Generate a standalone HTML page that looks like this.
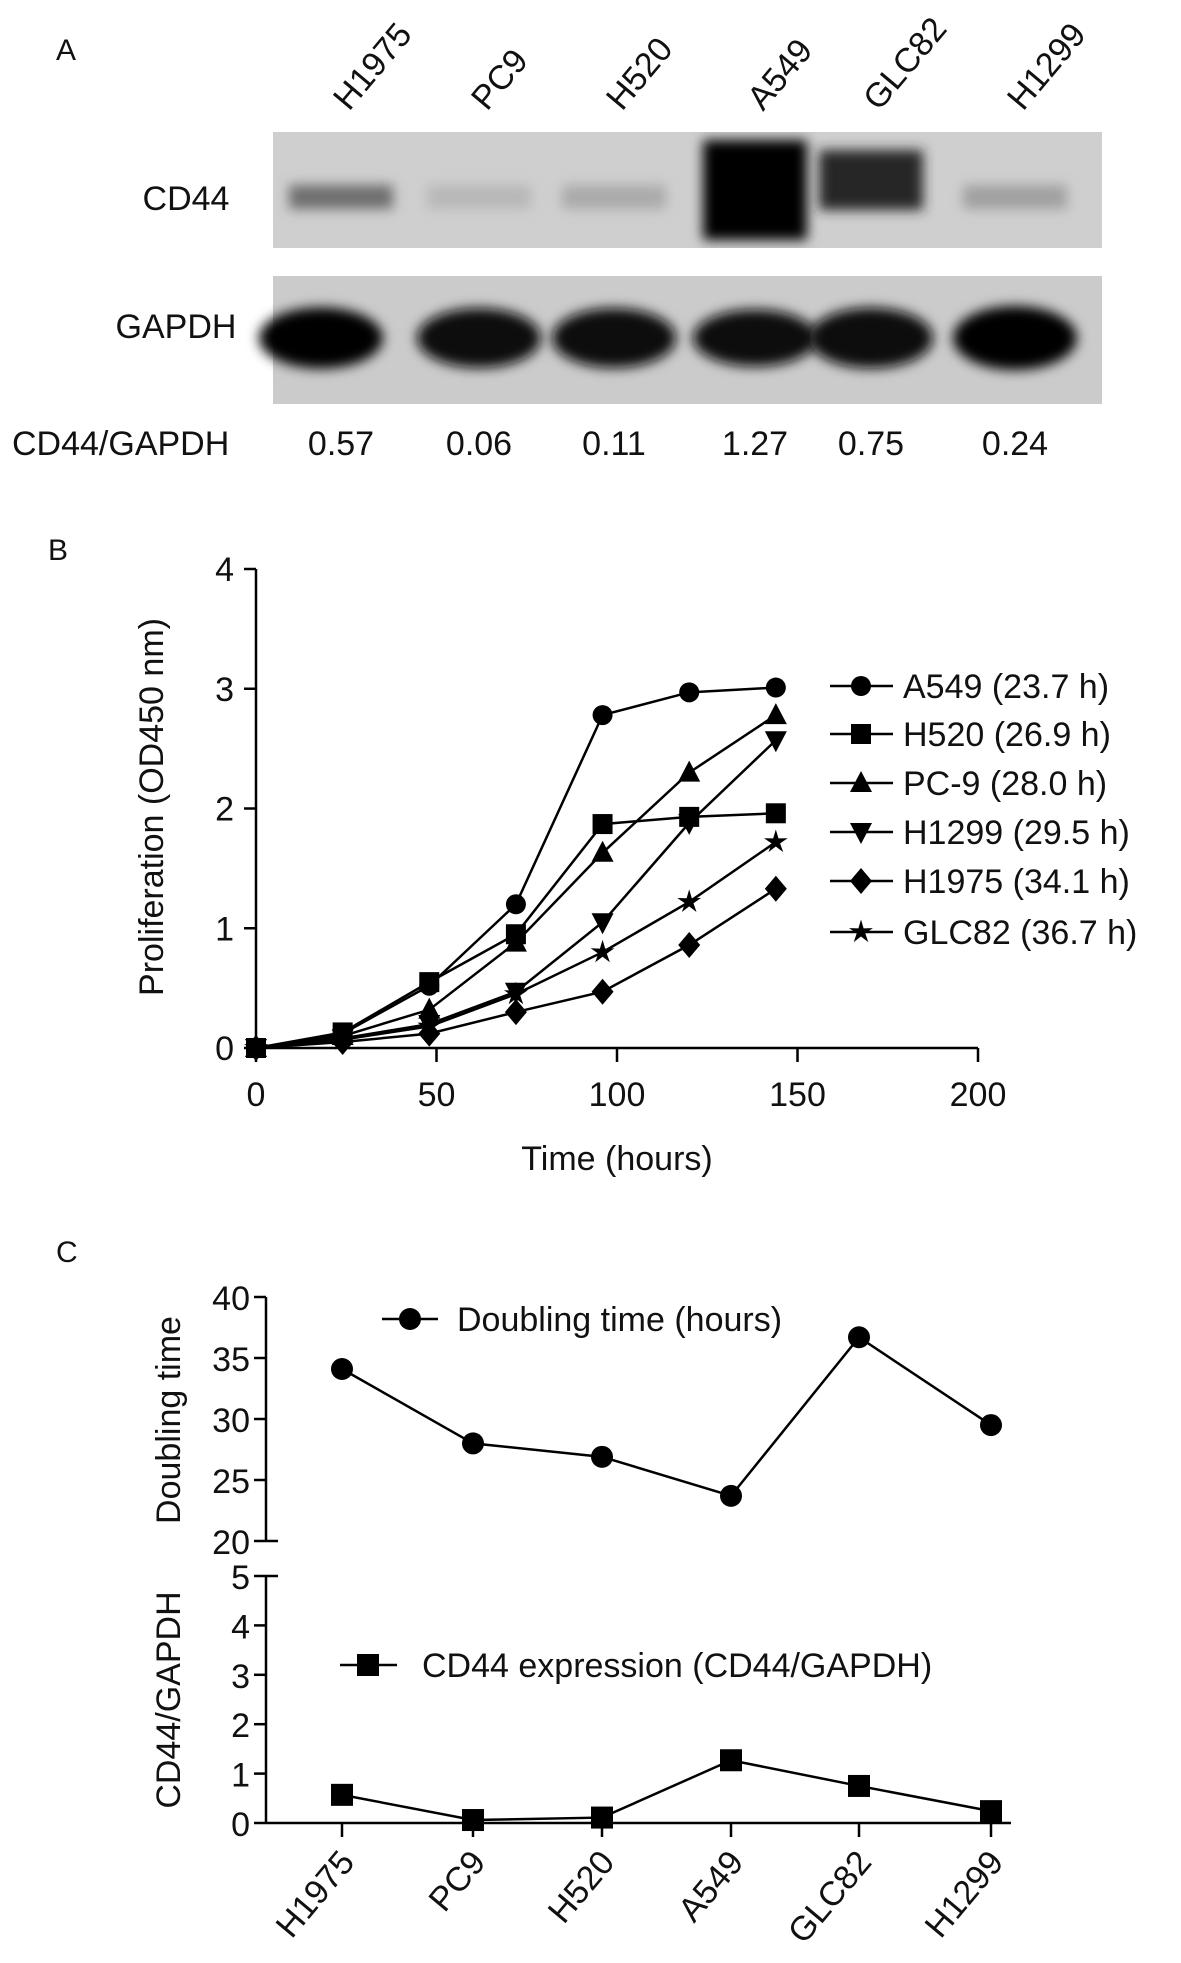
<!DOCTYPE html>
<html><head><meta charset="utf-8"><style>
html,body{margin:0;padding:0;background:#fff;}
svg{display:block;font-family:"Liberation Sans",sans-serif;}
</style></head><body>
<svg id="fig" width="1181" height="1963" viewBox="0 0 1181 1963">
<defs>
<filter id="blur" x="-30%" y="-60%" width="160%" height="220%"><feGaussianBlur stdDeviation="6"/></filter>
</defs>
<g id="panelA"></g>
<g id="panelB"></g>
<g id="panelC"></g>
</svg>
<script>
const NS='http://www.w3.org/2000/svg';
function mk(parent,tag,attrs,text){const e=document.createElementNS(NS,tag);for(const k in attrs)e.setAttribute(k,attrs[k]);if(text!==undefined)e.textContent=text;parent.appendChild(e);return e;}

// ---------- data ----------
const cellLines=['H1975','PC9','H520','A549','GLC82','H1299'];
const cd44Ratio=[0.57,0.06,0.11,1.27,0.75,0.24];
const cd44Intensity=[0.45,0.08,0.15,1.0,0.8,0.2];
const gapdhIntensity=[0.9,0.85,0.85,0.75,0.88,1.0];
const timeHours=[0,24,48,72,96,120,144];
const seriesNames=['A549 (23.7 h)','H520 (26.9 h)','PC-9 (28.0 h)','H1299 (29.5 h)','H1975 (34.1 h)','GLC82 (36.7 h)'];
const seriesMarkers=['circle','square','triangle','tridown','diamond','star'];
const a549Values=[0,0.12,0.52,1.2,2.78,2.97,3.01];
const h520Values=[0,0.13,0.55,0.95,1.87,1.93,1.96];
const pc9Values=[0,0.1,0.32,0.88,1.63,2.3,2.78];
const h1299Values=[0,0.08,0.2,0.47,1.05,1.88,2.57];
const h1975Values=[0,0.05,0.12,0.3,0.47,0.86,1.33];
const glc82Values=[0,0.07,0.18,0.45,0.8,1.22,1.72];
const xTicksB=[0,50,100,150,200];
const yTicksB=[0,1,2,3,4];
const doublingTime=[34.1,28.0,26.9,23.7,36.7,29.5];
const yTicksCUpper=[20,25,30,35,40];
const yTicksCLower=[0,1,2,3,4,5];

function marker(g,type,x,y,s){
  let el;
  if(type==='circle') el=mk(g,'circle',{cx:x,cy:y,r:s});
  else if(type==='square') el=mk(g,'rect',{x:x-s,y:y-s,width:2*s,height:2*s});
  else if(type==='triangle') el=mk(g,'polygon',{points:`${x},${y-s*1.2} ${x+s*1.1},${y+s*0.9} ${x-s*1.1},${y+s*0.9}`});
  else if(type==='tridown') el=mk(g,'polygon',{points:`${x},${y+s*1.2} ${x+s*1.1},${y-s*0.9} ${x-s*1.1},${y-s*0.9}`});
  else if(type==='diamond') el=mk(g,'polygon',{points:`${x},${y-s*1.3} ${x+s*1.1},${y} ${x},${y+s*1.3} ${x-s*1.1},${y}`});
  else { let p=[];for(let i=0;i<10;i++){const r=i%2?s*0.45:s*1.25;const a=-Math.PI/2+i*Math.PI/5;p.push((x+r*Math.cos(a)).toFixed(1)+','+(y+r*Math.sin(a)).toFixed(1));} el=mk(g,'polygon',{points:p.join(' ')}); }
  el.setAttribute('fill','#000');
  return el;
}

// ---------- Panel A ----------
const A=document.getElementById('panelA');
mk(A,'text',{x:56,y:60,'font-size':30,fill:'#111'},'A');
const laneX=[341,479,614,755,871,1015];
const b1=mk(A,'rect',{x:273,y:132,width:829,height:116,fill:'#cfcfcf'});

const b2=mk(A,'rect',{x:273,y:276,width:829,height:128,fill:'#cbcbcb'});

cellLines.forEach((n,i)=>{
  const v=cd44Intensity[i];
  const g=Math.round(200-200*v);
  const h=v>0.9?100:(v>0.6?60:24);
  const e=mk(A,'rect',{x:laneX[i]-52,y:v>0.9?140:(v>0.6?150:185),width:104,height:h,fill:`rgb(${g},${g},${g})`,filter:'url(#blur)'});
  
  const gv=gapdhIntensity[i];const gg=Math.round(60-60*gv);
  const e2=mk(A,'ellipse',{cx:laneX[i]+(i===0?-20:0),cy:338,rx:62,ry:18+14*gv,fill:`rgb(${gg},${gg},${gg})`,filter:'url(#blur)'});
  
  const t=mk(A,'text',{x:laneX[i],y:455,'font-size':34,'text-anchor':'middle',fill:'#111'},cd44Ratio[i].toFixed(2));
  
});
mk(A,'rect',{x:200,y:248,width:960,height:28,fill:'#fff'});
mk(A,'rect',{x:200,y:404,width:960,height:20,fill:'#fff'});
mk(A,'rect',{x:200,y:114,width:960,height:18,fill:'#fff'});
cellLines.forEach((n,i)=>{
  const t=mk(A,'text',{x:0,y:0,'font-size':34,fill:'#111',transform:`translate(${laneX[i]+8},${112}) rotate(-50)`},n);
  
  
});
mk(A,'text',{x:186,y:210,'font-size':34,'text-anchor':'middle',fill:'#111',},'CD44');
mk(A,'text',{x:176,y:338,'font-size':34,'text-anchor':'middle',fill:'#111',},'GAPDH');
mk(A,'text',{x:12,y:455,'font-size':34,fill:'#111',},'CD44/GAPDH');

// ---------- Panel B ----------
const B=document.getElementById('panelB');
const bx0=256,bx1=978,by0=1048,by1=569;
const xB=v=>bx0+(v-0)/(200-0)*(bx1-bx0);
const yB=v=>by0-(v-0)/(4-0)*(by0-by1);
mk(B,'text',{x:48,y:560,'font-size':30,fill:'#111'},'B');
mk(B,'line',{x1:bx0,y1:by1,x2:bx0,y2:by0,stroke:'#000','stroke-width':2.5,});
mk(B,'line',{x1:bx0,y1:by0,x2:bx1,y2:by0,stroke:'#000','stroke-width':2.5,});
xTicksB.forEach(v=>{
  mk(B,'line',{x1:xB(v),y1:by0,x2:xB(v),y2:by0+14,stroke:'#000','stroke-width':2.5});
  const t=mk(B,'text',{x:xB(v),y:by0+58,'font-size':34,'text-anchor':'middle',fill:'#111'},String(v));
  
});
yTicksB.forEach(v=>{
  mk(B,'line',{x1:bx0-12,y1:yB(v),x2:bx0,y2:yB(v),stroke:'#000','stroke-width':2.5});
  const t=mk(B,'text',{x:bx0-22,y:yB(v)+12,'font-size':34,'text-anchor':'end',fill:'#111'},String(v));
  
});
mk(B,'text',{x:0,y:0,'font-size':34,'text-anchor':'middle',fill:'#111',transform:`translate(163,807) rotate(-90)`,},'Proliferation  (OD450 nm)');
mk(B,'text',{x:617,y:1170,'font-size':34,'text-anchor':'middle',fill:'#111',},'Time (hours)');
const seriesB=[a549Values,h520Values,pc9Values,h1299Values,h1975Values,glc82Values];
seriesB.forEach((vals,si)=>{
  const g=mk(B,'g',{});
  
  
  mk(g,'polyline',{points:vals.map((v,i)=>xB(timeHours[i])+','+yB(v)).join(' '),fill:'none',stroke:'#000','stroke-width':2.5});
  vals.forEach((v,i)=>marker(g,seriesMarkers[si],xB(timeHours[i]),yB(v),10));
});
const legY=[686,734,783,832,881,932];
seriesNames.forEach((n,i)=>{
  const g=mk(B,'g',{});
  
  
  mk(g,'line',{x1:830,y1:legY[i],x2:893,y2:legY[i],stroke:'#000','stroke-width':2.5});
  marker(g,seriesMarkers[i],861,legY[i],10);
  mk(g,'text',{x:903,y:legY[i]+12,'font-size':34,fill:'#111'},n);
});

// ---------- Panel C ----------
const C=document.getElementById('panelC');
const cx0=266,cx1=1011;
const catX=[342,473,602,731,859,991];
const yU=v=>1541-(v-20)/(40-20)*(1541-1297);
const yL=v=>1823-(v-0)/(5-0)*(1823-1576);
mk(C,'text',{x:56,y:1262,'font-size':30,fill:'#111'},'C');
mk(C,'line',{x1:cx0,y1:yU(40),x2:cx0,y2:yU(20),stroke:'#000','stroke-width':2.5,});
mk(C,'line',{x1:cx0,y1:yL(5),x2:cx0,y2:yL(0),stroke:'#000','stroke-width':2.5,});
mk(C,'line',{x1:cx0,y1:yL(0),x2:cx1,y2:yL(0),stroke:'#000','stroke-width':2.5,});
yTicksCUpper.forEach(v=>{
  mk(C,'line',{x1:cx0-12,y1:yU(v),x2:cx0+(v===20?12:0),y2:yU(v),stroke:'#000','stroke-width':2.5});
  const t=mk(C,'text',{x:cx0-16,y:yU(v)+13,'font-size':34,'text-anchor':'end',fill:'#111'},String(v));
  
});
yTicksCLower.forEach(v=>{
  mk(C,'line',{x1:cx0-12,y1:yL(v),x2:cx0+(v===5?12:0),y2:yL(v),stroke:'#000','stroke-width':2.5});
  const t=mk(C,'text',{x:cx0-16,y:yL(v)+13,'font-size':34,'text-anchor':'end',fill:'#111'},String(v));
  
});
cellLines.forEach((n,i)=>{
  mk(C,'line',{x1:catX[i],y1:yL(0),x2:catX[i],y2:yL(0)+14,stroke:'#000','stroke-width':2.5});
  const t=mk(C,'text',{x:0,y:0,'font-size':34,'text-anchor':'end',fill:'#111',transform:`translate(${catX[i]+14},${yL(0)+40}) rotate(-50)`},n);
  
});
mk(C,'text',{x:0,y:0,'font-size':34,'text-anchor':'middle',fill:'#111',transform:`translate(180,1420) rotate(-90)`,},'Doubling time');
mk(C,'text',{x:0,y:0,'font-size':34,'text-anchor':'middle',fill:'#111',transform:`translate(180,1700) rotate(-90)`,},'CD44/GAPDH');
const gD=mk(C,'g',{});
mk(gD,'polyline',{points:doublingTime.map((v,i)=>catX[i]+','+yU(v)).join(' '),fill:'none',stroke:'#000','stroke-width':2.5});
doublingTime.forEach((v,i)=>marker(gD,'circle',catX[i],yU(v),11));
const gE=mk(C,'g',{});
mk(gE,'polyline',{points:cd44Ratio.map((v,i)=>catX[i]+','+yL(v)).join(' '),fill:'none',stroke:'#000','stroke-width':2.5});
cd44Ratio.forEach((v,i)=>marker(gE,'square',catX[i],yL(v),11));
const l1=mk(C,'g',{});
mk(l1,'line',{x1:382,y1:1319,x2:438,y2:1319,stroke:'#000','stroke-width':2.5});
marker(l1,'circle',410,1319,11);
mk(l1,'text',{x:457,y:1331,'font-size':34,fill:'#111'},'Doubling time (hours)');
const l2=mk(C,'g',{});
mk(l2,'line',{x1:340,y1:1665,x2:397,y2:1665,stroke:'#000','stroke-width':2.5});
marker(l2,'square',368,1665,11);
mk(l2,'text',{x:422,y:1677,'font-size':34,fill:'#111'},'CD44 expression (CD44/GAPDH)');
</script>
</body></html>
